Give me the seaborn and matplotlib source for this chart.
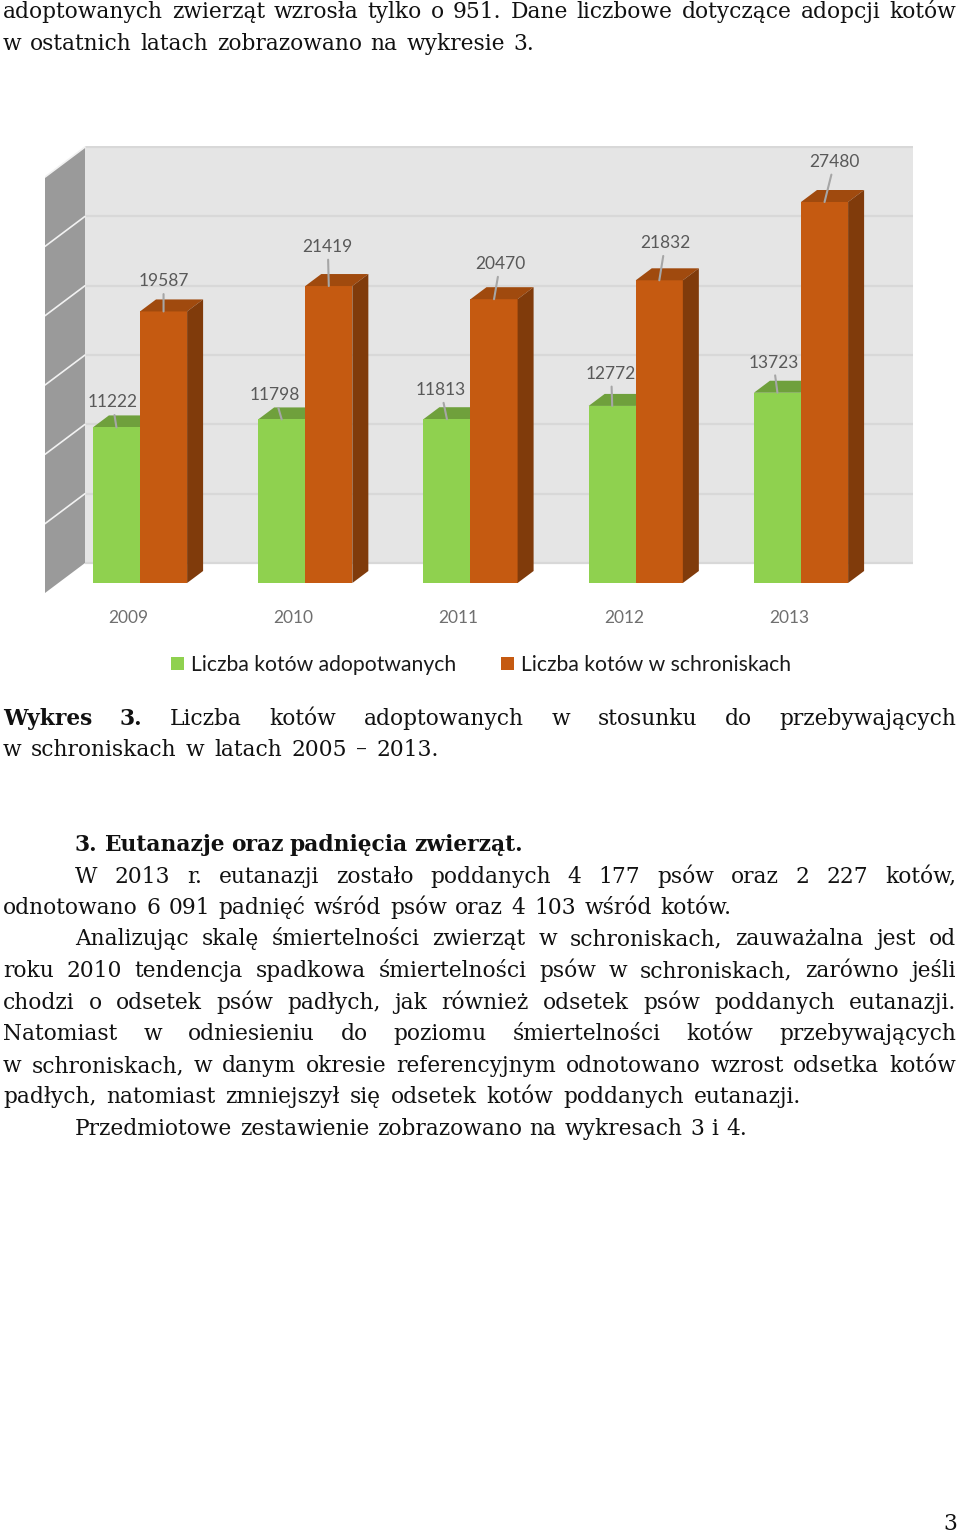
import matplotlib
matplotlib.use("Agg")
import matplotlib.pyplot as plt
import seaborn as sns
import pandas as pd

W, H = 960, 1533
years = ["2009", "2010", "2011", "2012", "2013"]
adopted = [11222, 11798, 11813, 12772, 13723]
sheltered = [19587, 21419, 20470, 21832, 27480]
series_names = ["Liczba kotów adopotwanych", "Liczba kotów w schroniskach"]
wall_ticks = [0, 5000, 10000, 15000, 20000, 25000, 30000]

adopted_label_offsets = [(-4, -25), (-7, -24), (-6, -29), (-1, -32), (-4, -30)]
sheltered_label_offsets = [(0, -30), (-1, -39), (6, -35), (6, -37), (10, -40)]

# (text, left px, right px, baseline px, number of bold leading words)
page_lines = [
    ("adoptowanych zwierząt wzrosła tylko o 951. Dane liczbowe dotyczące adopcji kotów", 3, 956, 18, 0),
    ("w ostatnich latach zobrazowano na wykresie 3.", 3, 534, 50, 0),
    ("Wykres 3. Liczba kotów adoptowanych w stosunku do przebywających", 3, 956, 725, 2),
    ("w schroniskach w latach 2005 – 2013.", 3, 439, 756, 0),
    ("3. Eutanazje oraz padnięcia zwierząt.", 75, 523, 851, 5),
    ("W 2013 r. eutanazji zostało poddanych 4 177 psów oraz 2 227 kotów,", 75, 956, 883, 0),
    ("odnotowano 6 091 padnięć wśród psów oraz 4 103 wśród kotów.", 3, 731, 914, 0),
    ("Analizując skalę śmiertelności zwierząt w schroniskach, zauważalna jest od", 75, 956, 945, 0),
    ("roku 2010 tendencja spadkowa śmiertelności psów w schroniskach, zarówno jeśli", 3, 956, 977, 0),
    ("chodzi o odsetek psów padłych, jak również odsetek psów poddanych eutanazji.", 3, 956, 1009, 0),
    ("Natomiast w odniesieniu do poziomu śmiertelności kotów przebywających", 3, 956, 1040, 0),
    ("w schroniskach, w danym okresie referencyjnym odnotowano wzrost odsetka kotów", 3, 956, 1072, 0),
    ("padłych, natomiast zmniejszył się odsetek kotów poddanych eutanazji.", 3, 801, 1103, 0),
    ("Przedmiotowe zestawienie zobrazowano na wykresach 3 i 4.", 75, 747, 1135, 0),
]

sns.set_style("white")
plt.rcParams["font.family"] = ["DejaVu Serif"]
fig = plt.figure(figsize=(W / 100, H / 100), dpi=100)
fig.patch.set_facecolor("white")

# chart geometry in pixels of the page
L, R, T, B = 45, 913, 146, 593
PX_PER_CAT = 165.25
PX_PER_UNIT = 381 / 27480
ZERO_PX = 583
FIRST_PX = 140
ax = fig.add_axes([L / W, 1 - B / H, (R - L) / W, (B - T) / H])
ax.set_facecolor("white")

df = pd.DataFrame({
    "year": years * 2,
    "value": adopted + sheltered,
    "series": [series_names[0]] * 5 + [series_names[1]] * 5,
})
GREEN, ORANGE = "#8fd14f", "#c55a11"
BW = 0.285
sns.barplot(data=df, x="year", y="value", hue="series", palette=[GREEN, ORANGE],
            width=2 * BW, gap=0, saturation=1, ax=ax, zorder=5, linewidth=0)

ax.set_xlim((L - FIRST_PX) / PX_PER_CAT, (R - FIRST_PX) / PX_PER_CAT)
ax.set_ylim((ZERO_PX - B) / PX_PER_UNIT, (ZERO_PX - T) / PX_PER_UNIT)
ax.set_xlabel("")
ax.set_ylabel("")
ax.set_yticks([])
ax.set_xticks([i - 12 / PX_PER_CAT for i in range(len(years))], years)
ax.tick_params(axis="x", length=0, pad=12.5, labelsize=12.5, labelcolor="#6f6f6f")
for t in ax.get_xticklabels():
    t.set_fontfamily("Lato")
sns.despine(ax=ax, left=True, bottom=True, top=True, right=True)

dx = 16 / PX_PER_CAT
dy = 12 / PX_PER_UNIT
back_dx = 40 / PX_PER_CAT
back_dy = 20 / PX_PER_UNIT
x_wall = ax.get_xlim()[0]
x_back = x_wall + back_dx
x_end = ax.get_xlim()[1]

# back wall and left wall
ax.fill([x_back, x_end, x_end, x_back], [back_dy, back_dy, wall_ticks[-1] + back_dy, wall_ticks[-1] + back_dy],
        color="#e5e5e5", lw=0, zorder=1)
wall_front = -10 / PX_PER_UNIT
ax.fill([x_wall, x_back, x_back, x_wall],
        [wall_front, back_dy, wall_ticks[-1] + back_dy, wall_ticks[-1] + wall_front],
        color="#9a9a9a", lw=0, zorder=2)
for v in wall_ticks:
    ax.plot([x_back, x_end], [v + back_dy, v + back_dy], color="#d8d8d8", lw=1.6, zorder=1.5, solid_capstyle="butt")
    if 0 < v:
        ax.plot([x_wall, x_back], [v + wall_front, v + back_dy], color="#f2f2f2", lw=1.2, zorder=2.5)

# depth faces of the bars, computed from the values
for i, (a, s) in enumerate(zip(adopted, sheltered)):
    ax.fill([i - BW, i, i + dx, i - BW + dx], [a, a, a + dy, a + dy], color="#6fa03c", lw=0, zorder=4)
    ax.fill([i, i + BW, i + BW + dx, i + dx], [s, s, s + dy, s + dy], color="#a04a0e", lw=0, zorder=6)
    ax.fill([i + BW, i + BW + dx, i + BW + dx, i + BW], [0, dy, s + dy, s], color="#803b0b", lw=0, zorder=6)

leader = dict(arrowstyle="-", color="#a6a6a6", lw=1.5, shrinkA=1, shrinkB=0)
for vals, offs, shift in [(adopted, adopted_label_offsets, -BW / 2),
                          (sheltered, sheltered_label_offsets, BW / 2)]:
    for j, (v, off) in enumerate(zip(vals, offs)):
        ax.annotate(str(v), xy=(j + shift, v), xytext=(off[0] * 0.72, -off[1] * 0.72),
                    xycoords="data", textcoords="offset points",
                    ha="center", va="center", fontsize=12.5, color="#595959", family="Lato",
                    arrowprops=leader, zorder=8)

handles, labels = ax.get_legend_handles_labels()
ax.get_legend().remove()
leg = fig.legend(handles, labels, loc="center", bbox_to_anchor=(481 / W, 1 - 665 / H), ncol=2,
                 frameon=False, handlelength=0.62, handleheight=0.62,
                 handletextpad=0.33, columnspacing=2.15,
                 prop={"family": "Lato", "size": 15.2})
for t in leg.get_texts():
    t.set_color("#1a1a1a")

# page text, word by word, justified between the measured margins
TEXT_SIZE = 15.7
def draw_line(text, x0, x1, base, nbold):
    renderer = fig.canvas.get_renderer()
    items = []
    for k, w in enumerate(text.split(" ")):
        t = fig.text(0, 1 - base / H, w, fontsize=TEXT_SIZE, family="DejaVu Serif", color="#111111",
                     fontweight="bold" if k < nbold else "normal", va="baseline", ha="left")
        items.append((t, t.get_window_extent(renderer).width))
    gap = (x1 - x0 - sum(w for _, w in items)) / max(len(items) - 1, 1)
    x = x0
    for t, w in items:
        t.set_x(x / W)
        x += w + gap

for line in page_lines:
    draw_line(*line)
fig.text(950 / W, 1 - 1530 / H, "3", fontsize=TEXT_SIZE, family="DejaVu Serif", ha="center", va="baseline", color="#111111")

fig.savefig("out.png", dpi=100)
